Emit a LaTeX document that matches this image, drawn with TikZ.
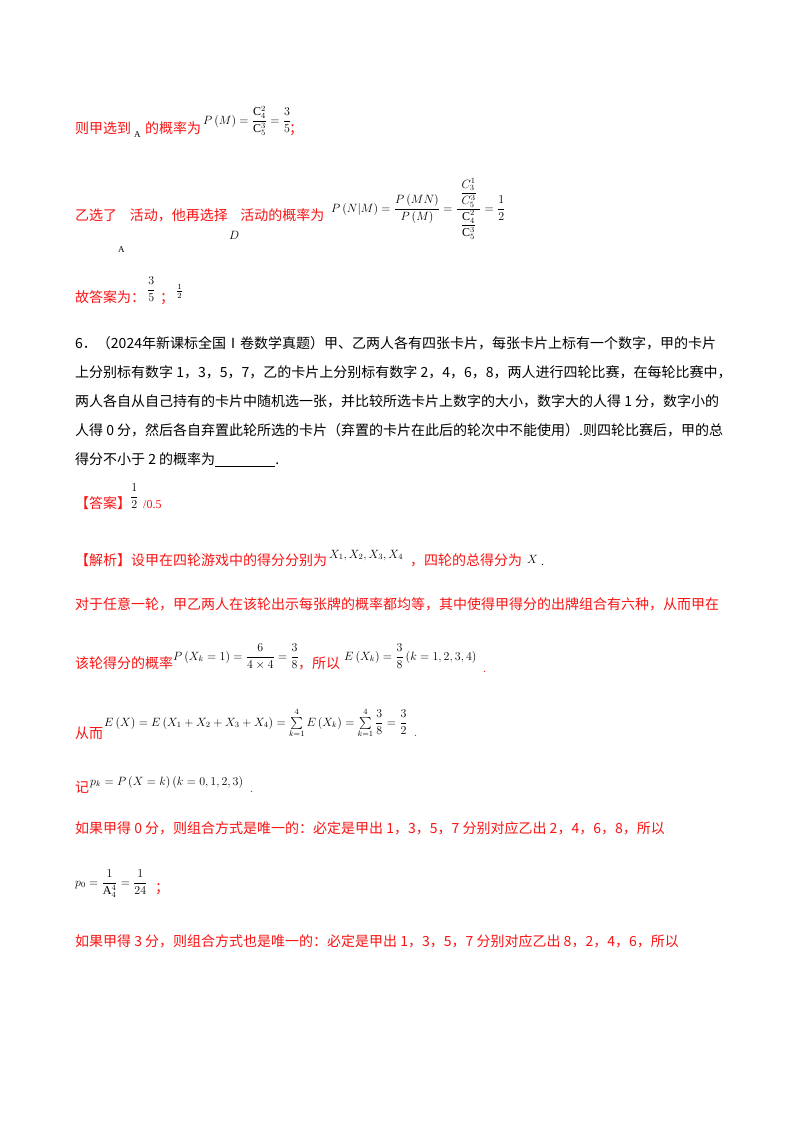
\documentclass[tikz,border=0pt]{standalone}
\usepackage{fontspec}
\usepackage{amsmath}
\setmainfont{Liberation Serif}
\newfontfamily\cjk{Noto Sans CJK SC}
\definecolor{ansred}{RGB}{250,20,20}
\begin{document}
\begin{tikzpicture}[x=1pt,y=-1pt,
  red/.style={anchor=base west,inner sep=0pt,text=ansred,font=\cjk\fontsize{14}{16}\selectfont},
  blk/.style={anchor=base west,inner sep=0pt,font=\cjk\fontsize{14}{16}\selectfont},
  mth/.style={anchor=base west,inner sep=0pt,font=\fontsize{12}{14}\selectfont}]
\useasboundingbox[fill=white] (0,0) rectangle (800,1132);
% line 1
\node[red] (l1a) at (75,133) {则甲选到};
\node[mth,font=\small] (l1b) at (134,137) {A};
\node[red] (l1c) at (145,133) {的概率为};
\node[mth] (l1d) at (203,124) {$P\left(M\right)=\dfrac{\mathrm{C}_4^2}{\mathrm{C}_5^3}=\dfrac{3}{5}$};
\node[red] (l1e) at (289,133) {；};
% line 2
\node[red] (l2a) at (75,220) {乙选了\hspace{0.9em}活动，他再选择\hspace{0.9em}活动的概率为};
\node[mth,font=\small] (l2b) at (118,252) {A};
\node[mth] (l2c) at (229,239) {$D$};
\node[mth] (l2d) at (331,212) {$P\left(N\middle|M\right)=\dfrac{P\left(MN\right)}{P\left(M\right)}=\dfrac{\;\dfrac{C_3^1}{C_5^3}\;}{\dfrac{\mathrm{C}_4^2}{\mathrm{C}_5^3}}=\dfrac{1}{2}$};
% line 3
\node[red] (l3a) at (75,302) {故答案为：};
\node[mth] (l3b) at (147,293) {$\dfrac{3}{5}$};
\node[red] (l3c) at (160,302) {；};
\node[mth] (l3d) at (176,294) {$\tfrac{1}{2}$};
% question
\node[blk] (q1) at (75,348) {6．（2024年新课标全国Ⅰ卷数学真题）甲、乙两人各有四张卡片，每张卡片上标有一个数字，甲的卡片};
\node[blk] (q2) at (75,377) {上分别标有数字 1，3，5，7，乙的卡片上分别标有数字 2，4，6，8，两人进行四轮比赛，在每轮比赛中，};
\node[blk] (q3) at (75,406) {两人各自从自己持有的卡片中随机选一张，并比较所选卡片上数字的大小，数字大的人得 1 分，数字小的};
\node[blk] (q4) at (75,435) {人得 0 分，然后各自弃置此轮所选的卡片（弃置的卡片在此后的轮次中不能使用）.则四轮比赛后，甲的总};
\node[blk] (q5) at (75,464) {得分不小于 2 的概率为\underline{\hspace{4.3em}}.};
% answer
\node[red] (a1) at (75,508) {【答案】};
\node[mth] (a2) at (130,500) {$\dfrac{1}{2}$};
\node[mth,text=ansred] (a3) at (143,508) {/0.5};
% analysis
\node[red] (b1) at (75,565) {【解析】设甲在四轮游戏中的得分分别为};
\node[mth] (b2) at (329,558) {$X_1,X_2,X_3,X_4$};
\node[red] (b3) at (410,565) {，四轮的总得分为};
\node[mth] (b4) at (527,563) {$X$};
\node[mth] (b5) at (541,565) {.};
\node[red] (b6) at (75,609) {对于任意一轮，甲乙两人在该轮出示每张牌的概率都均等，其中使得甲得分的出牌组合有六种，从而甲在};
\node[red] (c1) at (75,668) {该轮得分的概率};
\node[mth] (c2) at (173,660) {$P\left(X_k=1\right)=\dfrac{6}{4\times4}=\dfrac{3}{8}$};
\node[red] (c3) at (298,668) {，所以};
\node[mth] (c4) at (344,660) {$E\left(X_k\right)=\dfrac{3}{8}\left(k=1,2,3,4\right)$};
\node[mth,text=ansred] (c5) at (483,672) {.};
\node[red] (d1) at (75,738) {从而};
\node[mth] (d2) at (104,726) {$E\left(X\right)=E\left(X_1+X_2+X_3+X_4\right)=\sum\limits_{k=1}^{4}E\left(X_k\right)=\sum\limits_{k=1}^{4}\dfrac{3}{8}=\dfrac{3}{2}$};
\node[mth,text=ansred] (d3) at (414,736) {.};
\node[red] (e1) at (75,792) {记};
\node[mth] (e2) at (90,785) {$p_k=P\left(X=k\right)\left(k=0,1,2,3\right)$};
\node[mth,text=ansred] (e3) at (250,792) {.};
\node[red] (f1) at (75,833) {如果甲得 0 分，则组合方式是唯一的：必定是甲出 1，3，5，7 分别对应乙出 2，4，6，8，所以};
\node[mth] (g1) at (75,886) {$p_0=\dfrac{1}{\mathrm{A}_4^4}=\dfrac{1}{24}$};
\node[red] (g2) at (155,892) {；};
\node[red] (h1) at (75,946) {如果甲得 3 分，则组合方式也是唯一的：必定是甲出 1，3，5，7 分别对应乙出 8，2，4，6，所以};
\end{tikzpicture}
\end{document}
